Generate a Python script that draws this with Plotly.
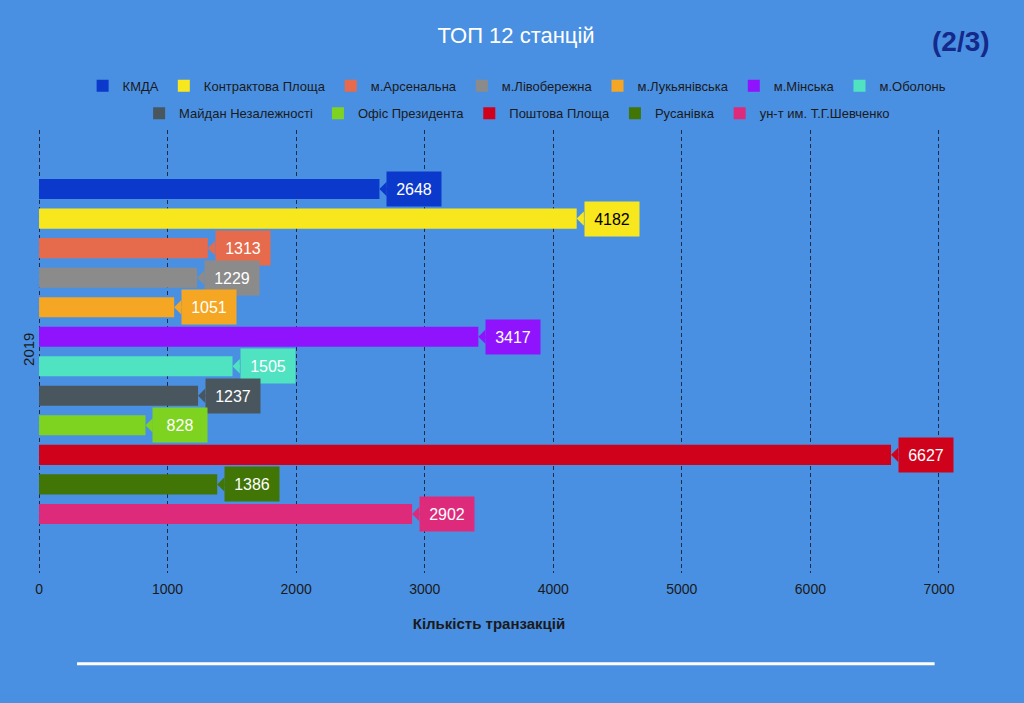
import plotly.graph_objects as go

year = '2019'
stations = ['КМДА', 'Контрактова Площа', 'м.Арсенальна', 'м.Лівобережна',
            'м.Лукьянівська', 'м.Мінська', 'м.Оболонь', 'Майдан Незалежності',
            'Офіс Президента', 'Поштова Площа', 'Русанівка', 'ун-т им. Т.Г.Шевченко']
values = [2648, 4182, 1313, 1229, 1051, 3417, 1505, 1237, 828, 6627, 1386, 2902]
colors = ['#0b39cc', '#f8e71c', '#e66a4c', '#8b8b8b', '#f5a623', '#9013fe',
          '#50e3c2', '#4a565e', '#7ed321', '#d0021b', '#417505', '#de2a7b']
label_colors = ['white', 'black'] + ['white'] * 10

bg = '#4a90e2'
font = 'Liberation Sans, Arial'
bargap = 0.2

fig = go.Figure()
for i, (name, val, col) in enumerate(zip(stations, values, colors)):
    fig.add_trace(go.Bar(
        x=[val], y=[year], name=name, orientation='h',
        marker=dict(color=col, line=dict(width=0)),
        legend='legend' if i < 7 else 'legend2',
        hovertemplate=name + ': %{x}<extra></extra>',
    ))

# value callouts, one per bar, at the bar's slot inside the group
n = len(values)
slot = (1 - bargap) / n
for i, (val, col, tc) in enumerate(zip(values, colors, label_colors)):
    fig.add_annotation(
        x=val, y=-(1 - bargap) / 2 + (i + 0.5) * slot,
        xref='x', yref='y',
        text=str(val), font=dict(size=16, color=tc, family=font),
        bgcolor=col, borderpad=6, width=42, height=22,
        showarrow=True, ax=35, ay=0, axref='pixel', ayref='pixel',
        arrowhead=1, arrowsize=1.2, arrowwidth=2, arrowcolor=col, standoff=0,
    )

fig.add_annotation(
    text='<b>(2/3)</b>', xref='paper', yref='paper',
    x=1.023, y=1.199, xanchor='center', yanchor='middle', showarrow=False,
    font=dict(size=28, color='#14298a', family=font),
)

fig.add_shape(type='line', xref='paper', yref='paper',
              x0=0.0433, x1=0.994, y0=-0.205, y1=-0.205,
              line=dict(color='white', width=3))

fig.update_layout(
    width=1024, height=703,
    paper_bgcolor=bg, plot_bgcolor=bg,
    margin=dict(l=38, r=84, t=130, b=130, autoexpand=False),
    title=dict(text='ТОП 12 станцій', x=0.504, xanchor='center',
               y=0.95, yanchor='middle',
               font=dict(size=22, color='white', family=font)),
    barmode='group', bargap=bargap, bargroupgap=0.32,
    showlegend=True,
    legend=dict(orientation='h', xref='container', yref='container',
                x=0.505, y=0.878, xanchor='center', yanchor='middle',
                font=dict(size=13, color='#1a1a1a', family=font),
                bgcolor='rgba(0,0,0,0)'),
    legend2=dict(orientation='h', xref='container', yref='container',
                 x=0.505, y=0.839, xanchor='center', yanchor='middle',
                 font=dict(size=13, color='#1a1a1a', family=font),
                 bgcolor='rgba(0,0,0,0)'),
    xaxis=dict(range=[-8, 7008], tickvals=[0, 1000, 2000, 3000, 4000, 5000, 6000, 7000],
               showgrid=True, gridcolor='#1f2b45', gridwidth=1, griddash='4px,3px',
               zeroline=False, showline=False, automargin=True,
               ticklabelstandoff=6,
               tickfont=dict(size=14, color='#1a1a1a', family=font),
               title=dict(text='<b>Кількість транзакцій</b>', standoff=22,
                          font=dict(size=15, color='#1a1a1a', family=font))),
    yaxis=dict(autorange='reversed', showgrid=False, zeroline=False,
               tickangle=-90, automargin=False,
               tickfont=dict(size=15, color='#1a1a1a', family=font)),
)

fig.write_html('out.html', config={'displayModeBar': False},
               post_script="document.body.style.margin='0';"
                           "document.body.style.background='" + bg + "';")
